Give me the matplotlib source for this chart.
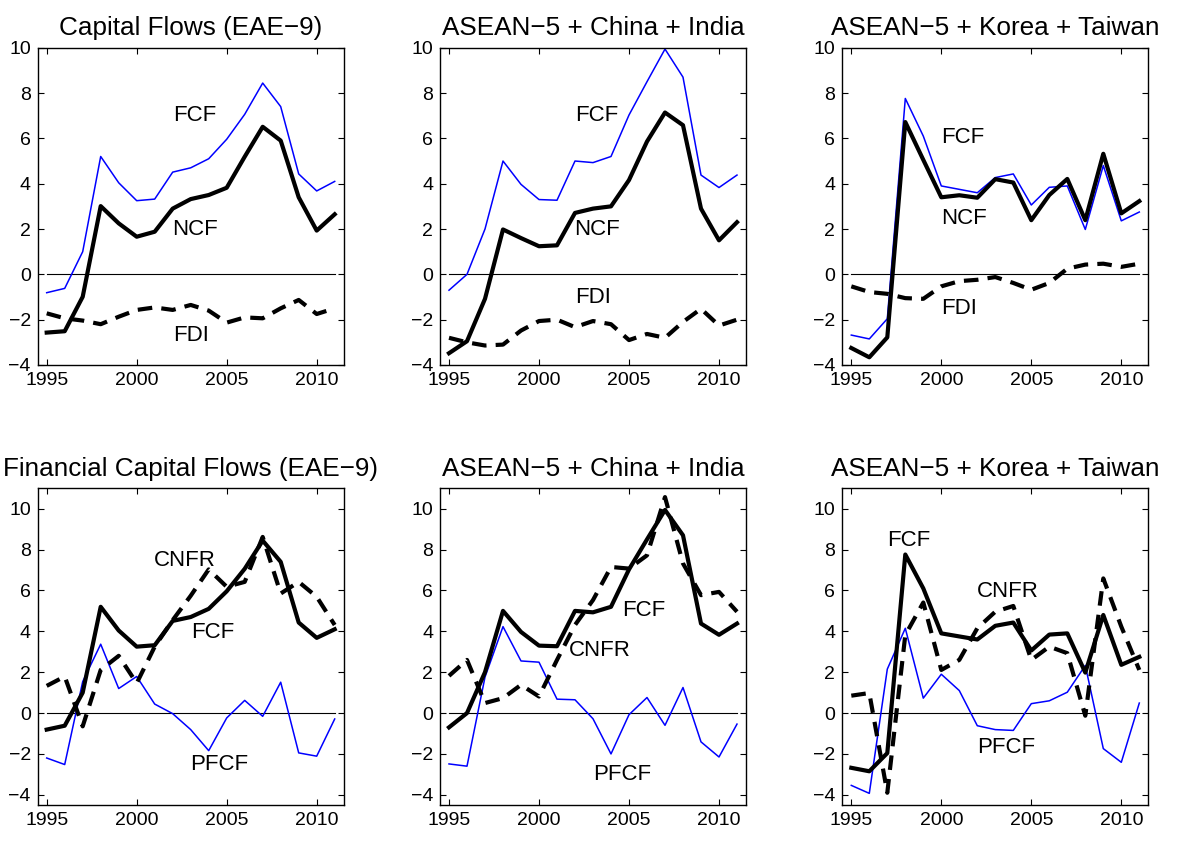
import numpy as np
import matplotlib
matplotlib.use('Agg')
import matplotlib.pyplot as plt

plt.rcParams['font.family'] = ['Liberation Sans', 'DejaVu Sans']

years = np.arange(1995, 2012)

# Top row: capital flows (FCF, NCF, FDI)
fcf_eae = [-0.81, -0.62, 1.0, 5.2, 4.04, 3.25, 3.32, 4.51, 4.7, 5.1, 5.96, 7.06, 8.44, 7.4, 4.43, 3.68, 4.1]
ncf_eae = [-2.57, -2.51, -0.99, 3.01, 2.25, 1.66, 1.88, 2.9, 3.32, 3.5, 3.82, 5.19, 6.51, 5.9, 3.4, 1.93, 2.65]
fdi_eae = [-1.72, -1.94, -2.04, -2.2, -1.87, -1.57, -1.46, -1.57, -1.35, -1.6, -2.13, -1.9, -1.94, -1.5, -1.13, -1.75, -1.5]

fcf_aci = [-0.7, 0.0, 2.0, 5.0, 3.97, 3.3, 3.27, 5.0, 4.93, 5.2, 7.03, 8.5, 9.94, 8.7, 4.38, 3.83, 4.38]
ncf_aci = [-3.48, -2.95, -1.08, 1.98, 1.6, 1.24, 1.28, 2.71, 2.9, 3.0, 4.16, 5.86, 7.14, 6.58, 2.9, 1.5, 2.3]
fdi_aci = [-2.8, -3.0, -3.14, -3.1, -2.48, -2.06, -2.0, -2.33, -2.06, -2.2, -2.9, -2.63, -2.8, -2.1, -1.52, -2.26, -2.0]

fcf_akt = [-2.68, -2.85, -1.96, 7.76, 6.1, 3.9, 3.75, 3.6, 4.27, 4.43, 3.06, 3.84, 3.9, 1.98, 4.8, 2.36, 2.75]
ncf_akt = [-3.25, -3.66, -2.78, 6.72, 5.05, 3.4, 3.49, 3.38, 4.2, 4.05, 2.39, 3.5, 4.21, 2.39, 5.32, 2.69, 3.23]
fdi_akt = [-0.53, -0.78, -0.86, -1.05, -1.08, -0.53, -0.3, -0.24, -0.12, -0.38, -0.68, -0.38, 0.25, 0.43, 0.47, 0.33, 0.47]

# Bottom row: financial capital flows (FCF, CNFR, PFCF)
pfcf_eae = [-2.2, -2.52, 1.54, 3.37, 1.2, 1.79, 0.44, -0.03, -0.81, -1.84, -0.24, 0.62, -0.16, 1.51, -1.95, -2.11, -0.29]
cnfr_eae = [1.33, 1.79, -0.65, 2.11, 2.8, 1.46, 3.25, 4.55, 5.74, 7.03, 6.18, 6.42, 8.62, 5.85, 6.42, 5.69, 4.31]

pfcf_aci = [-2.49, -2.6, 1.76, 4.23, 2.55, 2.49, 0.68, 0.65, -0.28, -2.0, -0.08, 0.76, -0.6, 1.25, -1.41, -2.15, -0.54]
cnfr_aci = [1.82, 2.6, 0.49, 0.73, 1.38, 0.81, 2.6, 4.31, 5.53, 7.15, 7.07, 7.72, 10.57, 7.32, 5.77, 5.93, 4.96]

pfcf_akt = [-3.54, -3.93, 2.15, 4.15, 0.73, 1.9, 1.1, -0.62, -0.81, -0.85, 0.46, 0.6, 1.02, 2.33, -1.74, -2.41, 0.49]
cnfr_akt = [0.85, 0.98, -3.9, 3.82, 5.41, 2.11, 2.6, 4.15, 4.96, 5.24, 2.6, 3.25, 2.93, -0.13, 6.59, 4.23, 2.11]

top_titles = ['Capital Flows (EAE\u22129)', 'ASEAN\u22125 + China + India', 'ASEAN\u22125 + Korea + Taiwan']
bottom_titles = ['Financial Capital Flows (EAE\u22129)', 'ASEAN\u22125 + China + India', 'ASEAN\u22125 + Korea + Taiwan']

top_data = [(fcf_eae, ncf_eae, fdi_eae), (fcf_aci, ncf_aci, fdi_aci), (fcf_akt, ncf_akt, fdi_akt)]
bottom_data = [(fcf_eae, cnfr_eae, pfcf_eae), (fcf_aci, cnfr_aci, pfcf_aci), (fcf_akt, cnfr_akt, pfcf_akt)]

# label positions (x, y) for each panel
top_labels = [
    {'FCF': (2003.2, 7.0), 'NCF': (2003.25, 2.0), 'FDI': (2003.0, -2.7)},
    {'FCF': (2003.2, 7.0), 'NCF': (2003.2, 2.0), 'FDI': (2003.0, -1.0)},
    {'FCF': (2001.2, 6.05), 'NCF': (2001.25, 2.45), 'FDI': (2001.0, -1.5)},
]
bottom_labels = [
    {'CNFR': (2002.7, 7.45), 'FCF': (2004.2, 3.95), 'PFCF': (2004.6, -2.5)},
    {'FCF': (2005.8, 5.0), 'CNFR': (2003.4, 3.05), 'PFCF': (2004.6, -3.0)},
    {'FCF': (1998.2, 8.45), 'CNFR': (2003.7, 5.95), 'PFCF': (2003.6, -1.7)},
]

fig = plt.figure(figsize=(11.77, 8.44), dpi=100)
W, H = 1177.0, 844.0
lefts = [37.7, 440.0, 842.3]
aw = 306.0


def style_axes(ax, ylim):
    ax.set_xlim(1994.5, 2011.5)
    ax.set_ylim(*ylim)
    ax.set_xticks([1995, 2000, 2005, 2010])
    ax.set_yticks(np.arange(-4, 11, 2))
    ax.tick_params(direction='in', top=True, right=True, length=4, width=0.8,
                   labelsize=14, pad=5)
    for s in ax.spines.values():
        s.set_linewidth(1.0)
    ax.plot([1995, 2011], [0, 0], color='black', lw=0.8)


for i in range(3):
    # top row
    ax = fig.add_axes([lefts[i] / W, 1 - 365 / H, aw / W, 317.3 / H])
    style_axes(ax, (-4, 10))
    fcf, ncf, fdi = top_data[i]
    ax.plot(years, fcf, color='#0000ff', lw=1.1)
    ax.plot(years, ncf, color='black', lw=3.0)
    ax.plot(years, fdi, color='black', lw=3.0, ls=(0, (3.5, 2.2)))
    ax.set_title(top_titles[i], fontsize=18.8, pad=9)
    for name, (x, y) in top_labels[i].items():
        ax.text(x, y, name, fontsize=16, ha='center', va='center')

    # bottom row
    ax = fig.add_axes([lefts[i] / W, 1 - 805 / H, aw / W, 316.7 / H])
    style_axes(ax, (-4.5, 11))
    fcf, cnfr, pfcf = bottom_data[i]
    ax.plot(years, pfcf, color='#0000ff', lw=1.1)
    ax.plot(years, fcf, color='black', lw=3.0)
    ax.plot(years, cnfr, color='black', lw=3.0, ls=(0, (3.5, 2.2)))
    ax.set_title(bottom_titles[i], fontsize=18.8, pad=9)
    for name, (x, y) in bottom_labels[i].items():
        ax.text(x, y, name, fontsize=16, ha='center', va='center')

fig.savefig('out.png', dpi=100)
